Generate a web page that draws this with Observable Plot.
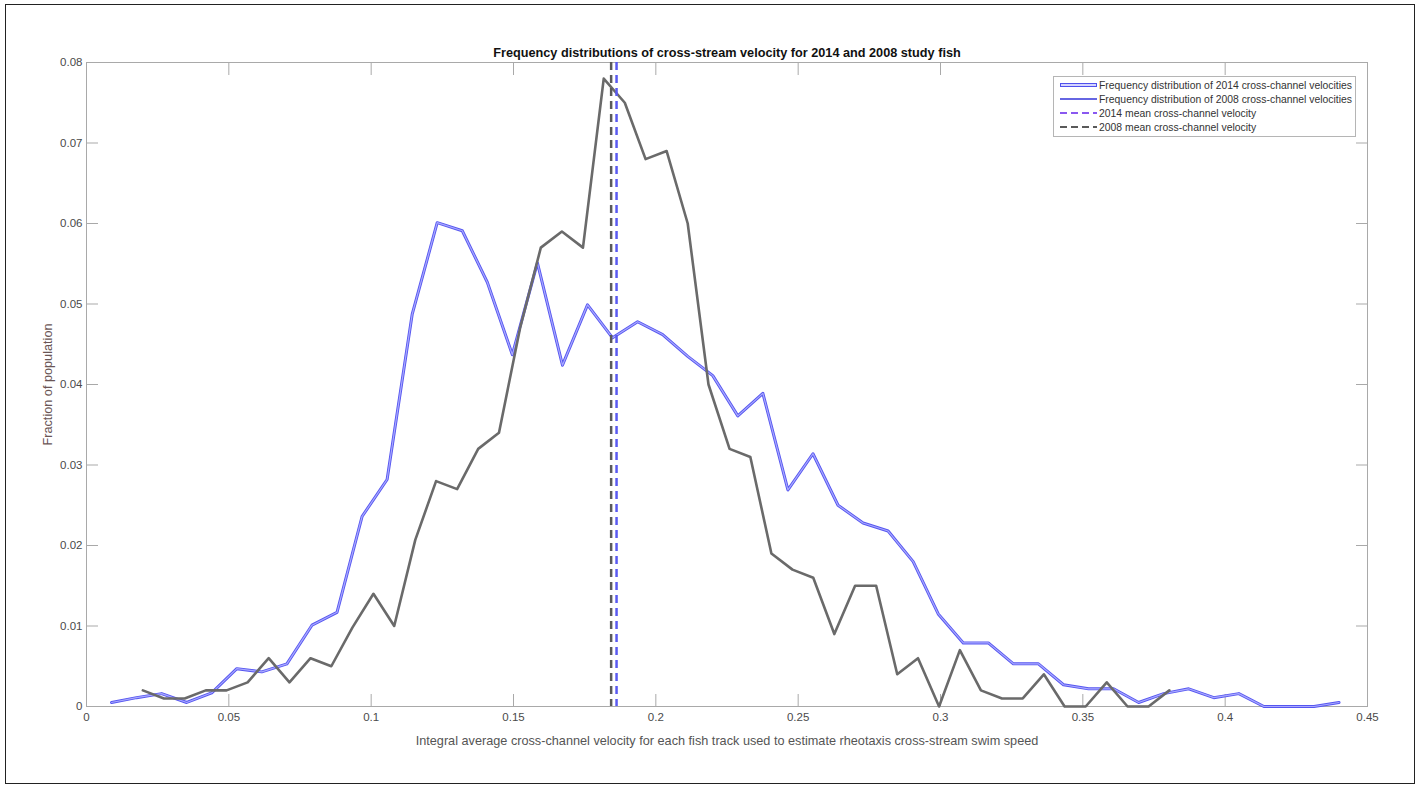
<!DOCTYPE html>
<html><head><meta charset="utf-8">
<script src="https://cdn.jsdelivr.net/npm/d3@7"></script>
<script src="https://cdn.jsdelivr.net/npm/@observablehq/plot@0.6"></script>
<style>
body{margin:0;background:#fff;font-family:"Liberation Sans",Arial,sans-serif;}
#wrap{position:relative;width:1422px;height:792px;overflow:hidden;}
#border{position:absolute;left:5px;top:4px;width:1410px;height:780px;border:1px solid #222;box-sizing:border-box;}
#chart{position:absolute;left:0;top:0;}
#legend{position:absolute;left:1053px;top:76px;width:303px;height:61px;border:1px solid #b5b5b5;background:#fff;box-sizing:border-box;font-size:10.4px;color:#333;padding-top:1px;}
.row{height:14px;display:flex;align-items:center;white-space:nowrap;}
.row svg{margin-left:6px;margin-right:2px;}
</style></head><body>
<div id="wrap"><div id="border"></div><div id="chart"></div><div id="legend"></div></div>
<script>
const titleText = "Frequency distributions of cross-stream velocity for 2014 and 2008 study fish";
const xLabelText = "Integral average cross-channel velocity for each fish track used to estimate rheotaxis cross-stream swim speed";
const yLabelText = "Fraction of population";

const xTicks = [0, 0.05, 0.1, 0.15, 0.2, 0.25, 0.3, 0.35, 0.4, 0.45];
const xTickLabels = ["0", "0.05", "0.1", "0.15", "0.2", "0.25", "0.3", "0.35", "0.4", "0.45"];
const yTicks = [0, 0.01, 0.02, 0.03, 0.04, 0.05, 0.06, 0.07, 0.08];
const yTickLabels = ["0", "0.01", "0.02", "0.03", "0.04", "0.05", "0.06", "0.07", "0.08"];

const x2014 = [0.0088, 0.0176, 0.0264, 0.0352, 0.044, 0.0528, 0.0616, 0.0704, 0.0792, 0.088,
  0.0968, 0.1056, 0.1144, 0.1232, 0.132, 0.1408, 0.1496, 0.1584, 0.1672, 0.176,
  0.1848, 0.1936, 0.2024, 0.2112, 0.22, 0.2288, 0.2376, 0.2464, 0.2552, 0.264,
  0.2728, 0.2816, 0.2904, 0.2992, 0.308, 0.3168, 0.3256, 0.3344, 0.3432, 0.352,
  0.3608, 0.3696, 0.3784, 0.3872, 0.396, 0.4048, 0.4136, 0.4224, 0.4312, 0.44];
const y2014 = [0.0005, 0.0011, 0.0016, 0.0005, 0.0017, 0.0047, 0.0043, 0.0053, 0.0101, 0.0117,
  0.0236, 0.0282, 0.0487, 0.0601, 0.0591, 0.0527, 0.0437, 0.0551, 0.0424, 0.0499,
  0.0458, 0.0478, 0.0462, 0.0435, 0.0411, 0.0361, 0.0389, 0.0269, 0.0314, 0.025,
  0.0228, 0.0218, 0.018, 0.0115, 0.0079, 0.0079, 0.0053, 0.0053, 0.0027, 0.0022,
  0.0022, 0.0005, 0.0016, 0.0022, 0.0011, 0.0016, 0, 0, 0, 0.0005];

const x2008 = [0.0198, 0.0272, 0.0345, 0.0419, 0.0492, 0.0566, 0.064, 0.0713, 0.0787, 0.086,
  0.0934, 0.1008, 0.1081, 0.1155, 0.1228, 0.1302, 0.1376, 0.1449, 0.1523, 0.1596,
  0.167, 0.1744, 0.1817, 0.1891, 0.1964, 0.2038, 0.2112, 0.2185, 0.2259, 0.2332,
  0.2406, 0.248, 0.2553, 0.2627, 0.27, 0.2774, 0.2848, 0.2921, 0.2995, 0.3068,
  0.3142, 0.3216, 0.3289, 0.3363, 0.3436, 0.351, 0.3584, 0.3657, 0.3731, 0.3804];
const y2008 = [0.002, 0.001, 0.001, 0.002, 0.002, 0.003, 0.006, 0.003, 0.006, 0.005,
  0.0098, 0.014, 0.010, 0.0207, 0.028, 0.027, 0.032, 0.034, 0.047, 0.057,
  0.059, 0.057, 0.078, 0.075, 0.068, 0.069, 0.060, 0.040, 0.032, 0.031,
  0.019, 0.017, 0.016, 0.009, 0.015, 0.015, 0.004, 0.006, 0, 0.007,
  0.002, 0.001, 0.001, 0.004, 0, 0, 0.003, 0, 0, 0.002];

const mean2014 = 0.1862;
const mean2008 = 0.1843;

const legendLabels = [
  "Frequency distribution of 2014 cross-channel velocities",
  "Frequency distribution of 2008 cross-channel velocities",
  "2014 mean cross-channel velocity",
  "2008 mean cross-channel velocity"
];
const legendColors = ["#5050ec", "#6666e2", "#8a58f0", "#5a5a5a"];
const legendInner = ["#d4d4ff", null, null, null];
const legendDash = [null, null, "7,4", "7,4"];

const c2014 = "#5656f0";
const c2014Inner = "#a9a9ff";
const c2008 = "#6a6a6a";
const cMean2014 = "#5a5af0";
const cMean2008 = "#5a5a5a";
const axisColor = "#a9a9a9";
const tickText = "#4a4a4a";

const d2014 = x2014.map((x, i) => ({x, y: y2014[i]}));
const d2008 = x2008.map((x, i) => ({x, y: y2008[i]}));

const chart = Plot.plot({
  width: 1422,
  height: 792,
  marginLeft: 86,
  marginRight: 55,
  marginTop: 62,
  marginBottom: 86,
  style: {fontFamily: "'Liberation Sans', Arial, sans-serif", fontSize: "11.5px", background: "transparent", overflow: "visible"},
  x: {domain: [0, 0.45]},
  y: {domain: [0, 0.08]},
  marks: [
    Plot.frame({stroke: axisColor}),
    Plot.axisX({anchor: "bottom", ticks: xTicks, tickSize: 12, dy: -12, text: null, label: null, stroke: axisColor}),
    Plot.axisX({anchor: "top", ticks: xTicks, tickSize: 12, dy: 12, text: null, label: null, stroke: axisColor}),
    Plot.axisY({anchor: "left", ticks: yTicks, tickSize: 12, dx: 12, text: null, label: null, stroke: axisColor}),
    Plot.axisY({anchor: "right", ticks: yTicks, tickSize: 12, dx: -12, text: null, label: null, stroke: axisColor}),
    Plot.axisX({anchor: "bottom", ticks: xTicks, tickSize: 0, tickPadding: 6, label: null, fill: tickText, fontSize: 11.5,
      tickFormat: d => xTickLabels[xTicks.indexOf(d)]}),
    Plot.axisY({anchor: "left", ticks: yTicks, tickSize: 0, tickPadding: 4, label: null, fill: tickText, fontSize: 11.5,
      tickFormat: d => yTickLabels[yTicks.indexOf(d)]}),
    Plot.line(d2014, {x: "x", y: "y", stroke: c2014, strokeWidth: 3}),
    Plot.line(d2014, {x: "x", y: "y", stroke: c2014Inner, strokeWidth: 1.2}),
    Plot.line(d2008, {x: "x", y: "y", stroke: c2008, strokeWidth: 2.6}),
    Plot.ruleX([mean2008], {stroke: cMean2008, strokeWidth: 2.5, strokeDasharray: "8,5"}),
    Plot.ruleX([mean2014], {stroke: cMean2014, strokeWidth: 2.5, strokeDasharray: "8,5"}),
    Plot.text([titleText], {text: d => d, frameAnchor: "top", textAnchor: "middle", lineAnchor: "middle", dy: -10, fontWeight: "bold", fontSize: 12.7, fill: "#111"}),
    Plot.text([xLabelText], {text: d => d, frameAnchor: "bottom", textAnchor: "middle", lineAnchor: "middle", dy: 34, fontSize: 12.7, fill: "#555"}),
    Plot.text([yLabelText], {text: d => d, frameAnchor: "left", textAnchor: "middle", lineAnchor: "middle", rotate: -90, dx: -39, fontSize: 12.7, fill: "#6a5555"})
  ]
});
document.getElementById("chart").appendChild(chart);

const leg = document.getElementById("legend");
legendLabels.forEach((lab, i) => {
  const row = document.createElement("div");
  row.className = "row";
  const dash = legendDash[i] ? ` stroke-dasharray="${legendDash[i]}"` : "";
  const w = legendInner[i] ? 4 : 2;
  const inner = legendInner[i] ? `<line x1="1" y1="4" x2="36" y2="4" stroke="${legendInner[i]}" stroke-width="2"/>` : "";
  row.innerHTML = `<svg width="37" height="8"><line x1="0" y1="4" x2="37" y2="4" stroke="${legendColors[i]}" stroke-width="${w}"${dash}/>${inner}</svg><span>${lab}</span>`;
  leg.appendChild(row);
});
</script>
</body></html>
